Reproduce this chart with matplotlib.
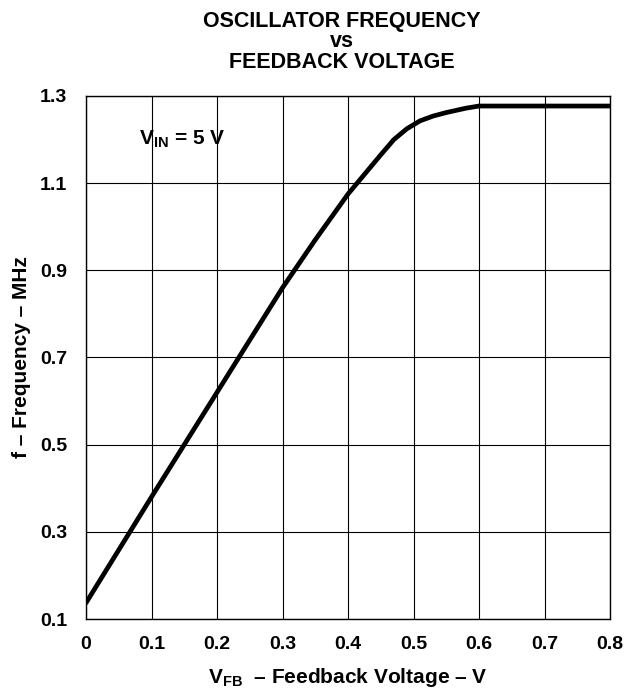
import matplotlib
matplotlib.use("Agg")
import matplotlib.pyplot as plt

plt.rcParams['font.family'] = ['Liberation Sans', 'DejaVu Sans']
plt.rcParams['mathtext.fontset'] = 'custom'
plt.rcParams['mathtext.rm'] = 'Liberation Sans'
plt.rcParams['mathtext.bf'] = 'Liberation Sans:bold'
plt.rcParams['mathtext.it'] = 'Liberation Sans:italic'

# Data
v_fb = [0.0, 0.1, 0.2, 0.3, 0.35, 0.4, 0.45, 0.47, 0.49, 0.51, 0.53, 0.55, 0.58, 0.6, 0.7, 0.8]
freq = [0.137, 0.38, 0.62, 0.86, 0.97, 1.075, 1.165, 1.2, 1.225, 1.243, 1.254, 1.262, 1.272, 1.277, 1.277, 1.277]
x_ticks = [0, 0.1, 0.2, 0.3, 0.4, 0.5, 0.6, 0.7, 0.8]
x_ticklabels = ['0', '0.1', '0.2', '0.3', '0.4', '0.5', '0.6', '0.7', '0.8']
y_ticks = [0.1, 0.3, 0.5, 0.7, 0.9, 1.1, 1.3]
y_ticklabels = ['0.1', '0.3', '0.5', '0.7', '0.9', '1.1', '1.3']

fig = plt.figure(figsize=(6.24, 6.9), dpi=100)
ax = fig.add_axes([86/624, 1-619/690, (610-86)/624, (619-96)/690])

ax.plot(v_fb, freq, color='black', lw=3.4, solid_capstyle='round', zorder=3)

ax.set_xlim(0, 0.8)
ax.set_ylim(0.1, 1.3)
ax.set_xticks(x_ticks)
ax.set_xticklabels(x_ticklabels, fontsize=14, fontweight='bold')
ax.set_yticks(y_ticks)
ax.set_yticklabels(y_ticklabels, fontsize=14, fontweight='bold')
ax.tick_params(length=0)
ax.tick_params(axis='x', pad=12.5)
ax.tick_params(axis='y', pad=13.5)
ax.grid(True, color='black', lw=0.8)
for s in ax.spines.values():
    s.set_linewidth(1.0)

ax.set_xlabel(r'$\mathbf{V_{FB}}$  – Feedback Voltage – V', fontsize=15, fontweight='bold', labelpad=9)
ax.set_ylabel('f – Frequency – MHz', fontsize=15, fontweight='bold')
ax.yaxis.set_label_coords((31-86)/524, 0.5)

ax.text(0.081, 1.2, r'$\mathbf{V_{IN}}$ = 5 V', fontsize=15, fontweight='bold', va='center', ha='left')

fig.text(342/624, 1-27/690, 'OSCILLATOR FREQUENCY', ha='center', va='baseline', fontsize=15.5, fontweight='bold')
fig.text(342/624, 1-47/690, 'vs', ha='center', va='baseline', fontsize=15.5, fontweight='bold')
fig.text(342/624, 1-68/690, 'FEEDBACK VOLTAGE', ha='center', va='baseline', fontsize=15.5, fontweight='bold')

fig.savefig('out.png', dpi=100)
